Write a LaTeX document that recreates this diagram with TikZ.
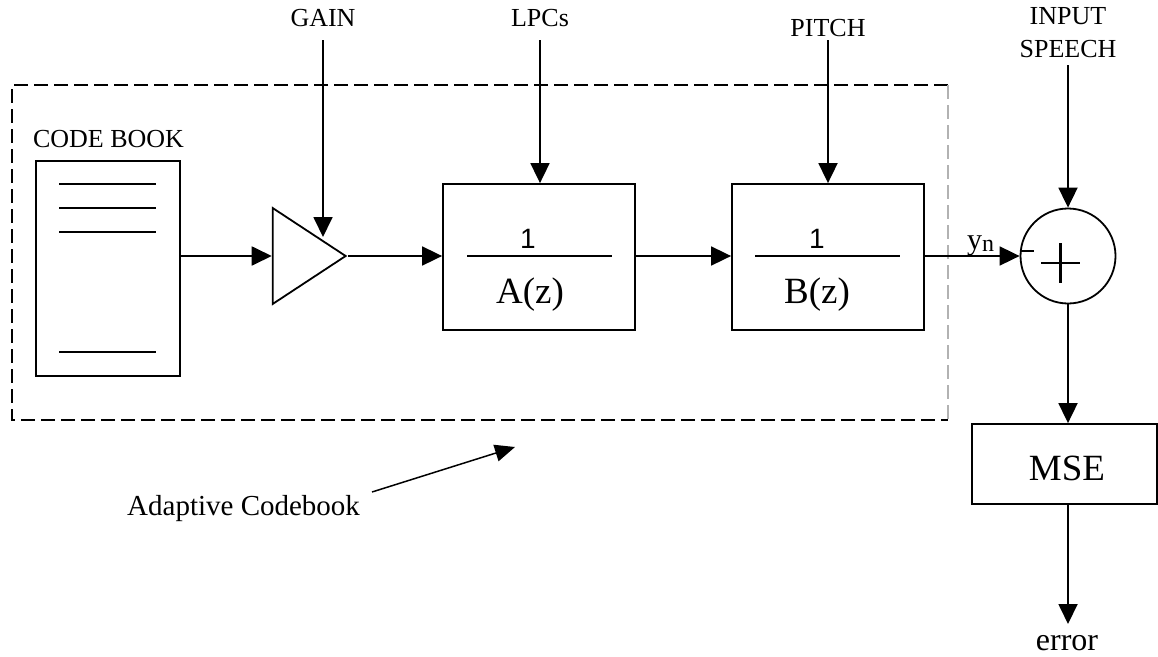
\documentclass[tikz,border=0pt]{standalone}
\usepackage{fontspec}
\setmainfont{Liberation Serif}
\newfontfamily\numfont{Liberation Sans}
\usetikzlibrary{arrows.meta,shapes.geometric,calc}

\begin{document}
\begin{tikzpicture}[x=1pt,y=-1pt,
  wire/.style={line width=1.8pt},
  sig/.style={wire,-{Triangle[length=20pt,width=19pt]}},
  blk/.style={draw,line width=1.8pt,rectangle,inner sep=0pt},
  lbl/.style={font=\fontsize{26}{31}\selectfont,inner sep=0pt,align=center},
  num/.style={font=\numfont\fontsize{28}{28}\selectfont,inner sep=0pt},
  den/.style={font=\fontsize{37}{37}\selectfont,inner sep=0pt},
]
\useasboundingbox (0,0) rectangle (1158,656);
\fill[white] (0,0) rectangle (1158,656);

% enclosure of the adaptive codebook
\draw[line width=2.6pt,dash pattern=on 14pt off 6pt] (948,85) -- (12,85) -- (12,420) -- (948,420);
\draw[line width=2.2pt,gray!60,dash pattern=on 14pt off 6pt] (948,85) -- (948,420);

% code book
\node[blk,minimum width=144pt,minimum height=215pt] (cb) at (108,268.5) {};
\foreach \yy in {184,208,232,352} \draw[wire] (59,\yy) -- (156,\yy);
\node[lbl,anchor=base] (cblabel) at (108.5,147) {CODE BOOK};

% gain stage
\node[draw,line width=1.8pt,isosceles triangle,isosceles triangle stretches,
      minimum width=96pt,minimum height=73pt,inner sep=0pt,anchor=apex] (amp) at (348,256) {};

% filters
\node[blk,minimum width=192pt,minimum height=146pt] (fa) at (539,257) {};
\draw[wire] (467,256) -- (612,256);
\node[num,anchor=base] (fa1) at (528,248) {1};
\node[den,anchor=base] (faz) at (530,303) {A(z)};

\node[blk,minimum width=192pt,minimum height=146pt] (fb) at (828,257) {};
\draw[wire] (755,256) -- (900,256);
\node[num,anchor=base] (fb1) at (817,248) {1};
\node[den,anchor=base] (fbz) at (817,303) {B(z)};

% summing junction
\node[draw,line width=1.8pt,circle,minimum size=95pt,inner sep=0pt] (sum) at (1068,256) {};
\draw[line width=2.6pt] (1041,263) -- (1080,263) (1060.5,243) -- (1060.5,283);
\draw[line width=1.4pt] (1021,251) -- (1034,251);
\node[anchor=base west,inner sep=0pt] (yn) at (967,249)
  {\fontsize{30}{30}\selectfont y\raisebox{-2pt}{\fontsize{24}{24}\selectfont n}};

% error measure
\node[blk,minimum width=185pt,minimum height=80pt] (mse) at (1064.5,464) {};
\node[font=\fontsize{37}{37}\selectfont,inner sep=0pt,anchor=base] (msetxt) at (1067,480) {MSE};
\node[font=\fontsize{32}{32}\selectfont,inner sep=0pt,anchor=base] (err) at (1067,650) {error};
\coordinate (errtip) at (1068,624);

% external inputs
\node[lbl,anchor=base] (gain) at (323,26) {GAIN};
\node[lbl,anchor=base] (lpc) at (540,26) {LPCs};
\node[lbl,anchor=base] (pitch) at (828,36) {PITCH};
\node[lbl,anchor=base] (speech1) at (1068,24) {INPUT};
\node[lbl,anchor=base] (speech2) at (1068,57) {SPEECH};
\coordinate (gaintop) at (323,40);
\coordinate (gaintip) at (323,237);
\coordinate (lpctop) at (540,40);
\coordinate (pitchtop) at (828,40);
\coordinate (speechtop) at (1068,65);

% signal path
\draw[sig] (cb.east |- amp.apex) -- (amp.west |- amp.apex);
\draw[sig] (amp.apex) -- (fa.west |- amp.apex);
\draw[sig] (fa.east |- amp.apex) -- (fb.west |- amp.apex);
\draw[sig] (fb.east |- amp.apex) -- (sum.west);
\draw[sig] (sum.south) -- (mse.north -| sum.south);
\draw[sig] (mse.south -| sum.south) -- (errtip);

% control inputs
\draw[sig] (gaintop) -- (gaintip);
\draw[sig] (lpctop) -- (lpctop |- fa.north);
\draw[sig] (pitchtop) -- (pitchtop |- fb.north);
\draw[sig] (speechtop) -- (sum.north);

% annotation
\node[anchor=base west,font=\fontsize{29}{32}\selectfont,inner sep=0pt] (adlbl) at (127,515) {Adaptive Codebook};
\coordinate (adtail) at (372,492);
\coordinate (adtip) at (515,447);
\draw[line width=1.5pt,-{Triangle[length=20pt,width=17pt]}] (adtail) -- (adtip);
\end{tikzpicture}
\end{document}
